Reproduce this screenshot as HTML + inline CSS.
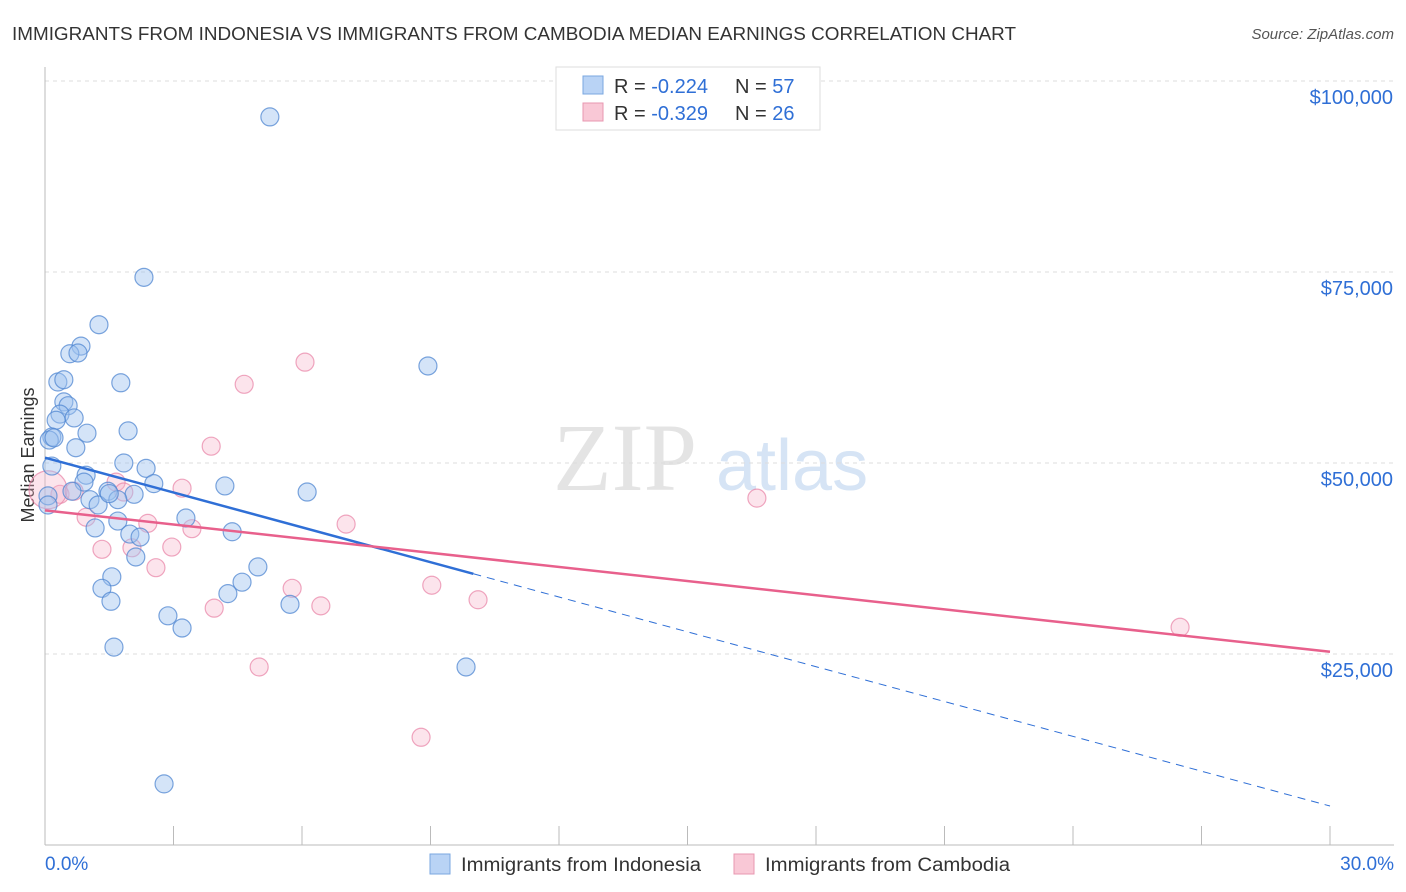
<!DOCTYPE html>
<html><head><meta charset="utf-8"><style>
body{margin:0;background:#fff;font-family:"Liberation Sans",sans-serif}
svg{display:block}
</style></head><body>
<svg id="chart" width="1406" height="892">
<text x="12" y="40" font-size="18" fill="#333" textLength="1004" lengthAdjust="spacingAndGlyphs">IMMIGRANTS FROM INDONESIA VS IMMIGRANTS FROM CAMBODIA MEDIAN EARNINGS CORRELATION CHART</text>
<text x="1394" y="39" font-size="15" fill="#555" font-style="italic" text-anchor="end">Source: ZipAtlas.com</text>
<text x="553" y="490" font-size="96" fill="#e4e4e4" font-family="Liberation Serif,serif">ZIP</text>
<text x="716" y="490" font-size="72" fill="#d6e4f5">atlas</text>
<text transform="translate(34,455) rotate(-90)" font-size="18" fill="#333" text-anchor="middle">Median Earnings</text>
<g id="grid"></g><g id="pts"></g><g id="lines"></g>
<g>
<rect x="556" y="67" width="264" height="63" fill="#fff" stroke="#ddd"/>
<rect x="583" y="76" width="20" height="18" fill="#b9d3f5" stroke="#7aa7e0"/>
<rect x="583" y="103" width="20" height="18" fill="#f9c8d6" stroke="#e897b0"/>
<text x="614" y="93" font-size="20" fill="#333">R = <tspan fill="#2f6fd6">-0.224</tspan></text>
<text x="735" y="93" font-size="20" fill="#333">N = <tspan fill="#2f6fd6">57</tspan></text>
<text x="614" y="120" font-size="20" fill="#333">R = <tspan fill="#2f6fd6">-0.329</tspan></text>
<text x="735" y="120" font-size="20" fill="#333">N = <tspan fill="#2f6fd6">26</tspan></text>
</g>
<g>
<rect x="430" y="854" width="20" height="20" fill="#b9d3f5" stroke="#7aa7e0"/>
<text x="461" y="871" font-size="19" fill="#333" textLength="240" lengthAdjust="spacingAndGlyphs">Immigrants from Indonesia</text>
<rect x="734" y="854" width="20" height="20" fill="#f9c8d6" stroke="#e897b0"/>
<text x="765" y="871" font-size="19" fill="#333" textLength="245" lengthAdjust="spacingAndGlyphs">Immigrants from Cambodia</text>
</g>
</svg>
<script>
const xTicks=[0,3,6,9,12,15,18,21,24,27,30];
const yTicks=[25000,50000,75000,100000];
const yTickLabels=["$25,000","$50,000","$75,000","$100,000"];
const indoX=[5.25,2.31,1.26,0.84,0.58,0.77,0.30,0.44,1.77,8.94,0.44,0.54,0.35,0.68,0.26,0.16,0.98,1.94,0.72,1.84,2.36,0.16,0.96,2.54,0.91,4.20,6.12,0.63,1.47,2.08,0.07,1.05,1.70,1.24,0.07,3.29,1.70,1.17,4.37,1.98,2.22,2.12,4.97,1.56,4.60,1.33,4.27,1.54,5.72,2.87,3.20,1.61,9.83,2.78,0.10,0.21,1.50];
const indoY=[95.3,74.3,68.1,65.3,64.3,64.4,60.6,60.9,60.5,62.7,58.0,57.5,56.4,55.9,55.6,53.4,53.9,54.2,52.0,50.0,49.3,49.6,48.4,47.3,47.5,47.0,46.2,46.3,46.3,45.9,45.7,45.2,45.2,44.5,44.5,42.8,42.4,41.5,41.0,40.7,40.3,37.7,36.4,35.1,34.4,33.6,32.9,31.9,31.5,30.0,28.4,25.9,23.3,8.0,53.0,53.3,46.0];
const camX=[6.07,4.65,3.88,3.20,1.66,1.84,0.35,0.07,16.62,7.03,2.40,3.43,0.96,1.33,2.03,2.96,2.59,5.77,9.03,10.11,3.95,6.44,26.50,5.00,8.78,0.68];
const camY=[63.2,60.3,52.2,46.7,47.5,46.2,45.9,46.5,45.4,42.0,42.1,41.4,42.9,38.7,38.9,39.0,36.3,33.6,34.0,32.1,31.0,31.3,28.5,23.3,14.1,46.3];
const indoTrend=[50.7,-1.52];
const camTrend=[43.8,-0.617];
const X=v=>45+v/30*1285, Y=k=>845-k*1000/25000*191;
const NS="http://www.w3.org/2000/svg";
function mk(t,a,p){const e=document.createElementNS(NS,t);for(const k in a)e.setAttribute(k,a[k]);p.appendChild(e);return e;}
const grid=document.getElementById('grid');
yTicks.forEach((v,i)=>{const y=Y(v/1000);
const l=mk('line',{x1:45,x2:1394,y1:y,y2:y,stroke:'#ddd','stroke-dasharray':'4,4'},grid);

const t=mk('text',{x:1393,y:y+23,'font-size':20,fill:'#2f6fd6','text-anchor':'end'},grid);t.textContent=yTickLabels[i];
});
const tl=mk('line',{x1:45,x2:1394,y1:Y(100),y2:Y(100),stroke:'#ddd','stroke-dasharray':'4,4'},grid);

const ax=mk('line',{x1:45,x2:45,y1:67,y2:845,stroke:'#bbb'},grid);
const bx=mk('line',{x1:45,x2:1394,y1:845,y2:845,stroke:'#bbb'},grid);
xTicks.forEach(v=>{const t=mk('line',{x1:X(v),x2:X(v),y1:826,y2:845,stroke:'#bbb'},grid);
});
const x0=mk('text',{x:45,y:870,'font-size':19,fill:'#2f6fd6'},grid);x0.textContent='0.0%';
const x1=mk('text',{x:1394,y:870,'font-size':19,fill:'#2f6fd6','text-anchor':'end'},grid);x1.textContent='30.0%';
const pts=document.getElementById('pts');
camX.forEach((v,i)=>{const c=mk('circle',{cx:X(v),cy:Y(camY[i]),r:i==7?19:9,fill:'rgba(246,178,200,0.35)',stroke:'rgba(232,130,165,0.7)','stroke-width':1.2},pts);
});
indoX.forEach((v,i)=>{const c=mk('circle',{cx:X(v),cy:Y(indoY[i]),r:9,fill:'rgba(160,196,240,0.45)',stroke:'rgba(80,135,210,0.75)','stroke-width':1.2},pts);
});
const lines=document.getElementById('lines');
const f=(t,x)=>t[0]+t[1]*x;
let a=mk('line',{x1:X(0),y1:Y(f(indoTrend,0)),x2:X(10),y2:Y(f(indoTrend,10)),stroke:'#2f6fd6','stroke-width':2.5},lines);

a=mk('line',{x1:X(10),y1:Y(f(indoTrend,10)),x2:X(30),y2:Y(f(indoTrend,30)),stroke:'#2f6fd6','stroke-width':1,'stroke-dasharray':'8,6'},lines);

a=mk('line',{x1:X(0),y1:Y(f(camTrend,0)),x2:X(30),y2:Y(f(camTrend,30)),stroke:'#e8608c','stroke-width':2.5},lines);

</script>
</body></html>
